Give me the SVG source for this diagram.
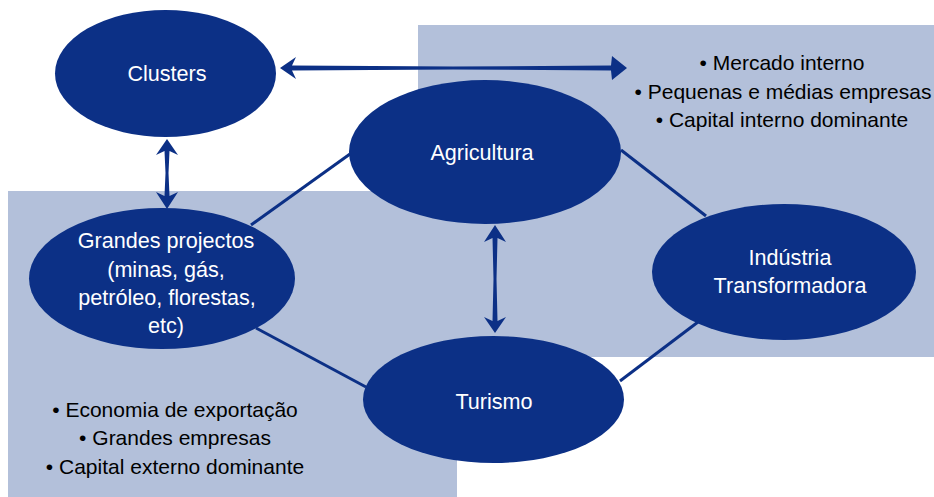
<svg xmlns="http://www.w3.org/2000/svg" width="934" height="497" viewBox="0 0 934 497">
<style>
.bg{fill:#b3c0da}
.node{fill:#0c3086}
.lbl{font-family:"Liberation Sans",Arial,sans-serif;font-size:21.6px;fill:#ffffff;text-anchor:middle}
.lst{font-family:"Liberation Sans",Arial,sans-serif;font-size:21px;fill:#000000;text-anchor:middle}
.ln{stroke:#0c3086;stroke-width:3;fill:none}
.arr{fill:#0c3086}
</style>
<rect class="bg" x="418" y="25" width="516" height="332"/>
<rect class="bg" x="8" y="191" width="449" height="306"/>
<g id="connectors">
<line class="ln" x1="251" y1="225" x2="350" y2="154"/>
<line class="ln" x1="621" y1="150" x2="706" y2="216"/>
<line class="ln" x1="256" y1="328" x2="366" y2="387"/>
<line class="ln" x1="620" y1="381" x2="698" y2="322"/>
<path class="arr" d="M280,68 L296,57 L292,65.5 L453,66.5 L611,65.5 L612,56 L627,68 L612,80 L611,70.5 L453,69.5 L292,70.5 L296,79 Z"/>
<path class="arr" d="M167,139 L178,155 L169.5,151 L168.5,173 L169.5,196 L178,192 L167,209 L156,192 L164.5,196 L165.5,173 L164.5,151 L156,155 Z"/>
<path class="arr" d="M495,225 L506,242 L497.5,238 L496.5,279 L497.5,321 L506,317 L495,333 L484,317 L492.5,321 L493.5,279 L492.5,238 L484,242 Z"/>
</g>
<g id="clusters">
<ellipse class="node" cx="165.5" cy="73.5" rx="110.5" ry="63.5"/>
<text class="lbl" x="167" y="81">Clusters</text>
</g>
<g id="agricultura">
<ellipse class="node" cx="485" cy="152" rx="136" ry="72"/>
<text class="lbl" x="482" y="160">Agricultura</text>
</g>
<g id="grandes">
<ellipse class="node" cx="162" cy="278.5" rx="133" ry="70.5"/>
<text class="lbl" x="166" y="248">Grandes projectos</text>
<text class="lbl" x="166" y="277">(minas, gás,</text>
<text class="lbl" x="167" y="305">petróleo, florestas,</text>
<text class="lbl" x="166" y="333">etc)</text>
</g>
<g id="industria">
<ellipse class="node" cx="784" cy="272" rx="132" ry="68"/>
<text class="lbl" x="790" y="265">Indústria</text>
<text class="lbl" x="790" y="293">Transformadora</text>
</g>
<g id="turismo">
<ellipse class="node" cx="493.5" cy="399.5" rx="130.5" ry="63.5"/>
<text class="lbl" x="494" y="409">Turismo</text>
</g>
<g id="list-internal">
<text class="lst" x="782" y="70">• Mercado interno</text>
<text class="lst" x="783" y="99">• Pequenas e médias empresas</text>
<text class="lst" x="782" y="127">• Capital interno dominante</text>
</g>
<g id="list-external">
<text class="lst" x="175" y="417">• Economia de exportação</text>
<text class="lst" x="175" y="445">• Grandes empresas</text>
<text class="lst" x="175" y="474">• Capital externo dominante</text>
</g>
</svg>
